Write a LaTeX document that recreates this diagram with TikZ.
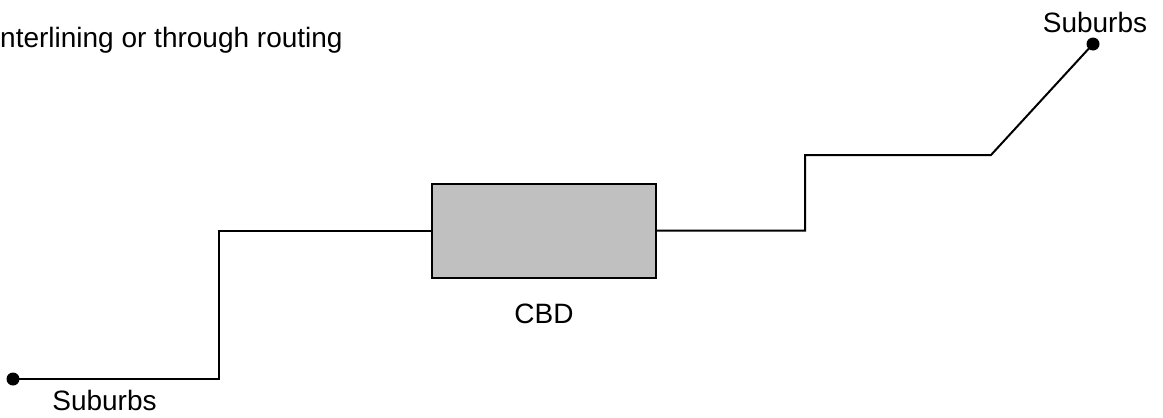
\documentclass[tikz,border=0pt]{standalone}
\usepackage{fontspec}
\setmainfont{Liberation Sans}
\begin{document}
\begin{tikzpicture}[x=1pt,y=-1pt,
  route/.style={line width=2pt, black},
  endpoint/.style={circle, fill=black, inner sep=0pt, minimum size=13pt},
  hub/.style={draw=black, line width=2pt, fill=cbdgray, minimum width=224pt, minimum height=94pt, inner sep=0pt},
  lbl/.style={inner sep=0pt, font=\fontsize{28}{34}\selectfont}]
\definecolor{cbdgray}{HTML}{C0C0C0}
\useasboundingbox (0,0) rectangle (1163,418);
\node[hub] (cbd) at (544,230.5) {};
\node[endpoint] (dotL) at (13,379) {};
\node[endpoint] (dotR) at (1093,44) {};
\coordinate (k0) at (219,230.5);
\coordinate (k1) at (805,155);
\coordinate (k2) at (991,155);
\draw[route] (dotL.center) -| (k0) -- (cbd.west);
\draw[route] (cbd.east) -| (k1) -- (k2) -- (dotR.center);
\node[lbl, anchor=base west] (title) at (0,47) {nterlining or through routing};
\node[lbl, anchor=base] (cbdlbl) at (544,323) {CBD};
\node[lbl, anchor=base] (subR) at (1095,32) {Suburbs};
\node[lbl, anchor=base] (subL) at (104.5,410) {Suburbs};
\end{tikzpicture}
\end{document}
